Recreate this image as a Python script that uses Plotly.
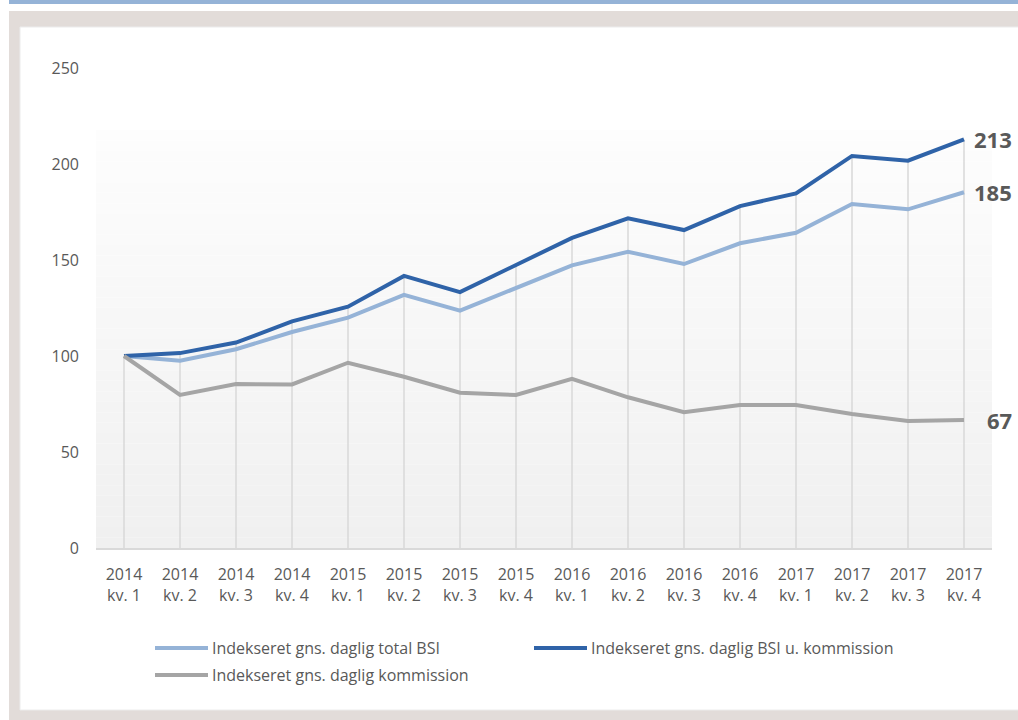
import plotly.graph_objects as go

# categories (quarters) and index series
years = ["2014", "2014", "2014", "2014", "2015", "2015", "2015", "2015",
         "2016", "2016", "2016", "2016", "2017", "2017", "2017", "2017"]
quarters = ["kv. 1", "kv. 2", "kv. 3", "kv. 4"] * 4

total_bsi = [100, 97.5, 103.5, 112.5, 120, 131.8, 123.6, 135.4,
             147.2, 154.3, 147.9, 158.7, 164.2, 179.2, 176.4, 185.3]
bsi_u_komm = [100, 101.5, 107, 118, 125.7, 141.7, 133.3, 147.4,
              161.5, 171.7, 165.6, 178.1, 184.7, 204.2, 201.7, 212.8]
kommission = [100, 79.7, 85.4, 85.2, 96.5, 89.2, 80.9, 79.7,
              88.1, 78.5, 70.7, 74.5, 74.5, 69.8, 66.1, 66.7]

names = ["Indekseret gns. daglig total BSI",
         "Indekseret gns. daglig BSI u. kommission",
         "Indekseret gns. daglig kommission"]
colors = ["#95b3d7", "#2f63a8", "#a5a5a5"]
series = [total_bsi, bsi_u_komm, kommission]

W, H = 1018, 720
L, R, T, B = 96, 992, 68, 548   # plot area in pixels


def px(x):
    return (x - L) / (R - L)


def py(y):
    return (B - y) / (B - T)


x_idx = list(range(len(years)))
tick_text = [f"{y}<br>{q}" for y, q in zip(years, quarters)]

fig = go.Figure()

# drop lines from the highest series down to the axis
drop_x, drop_y = [], []
for i in x_idx:
    drop_x += [i, i, None]
    drop_y += [0, max(s[i] for s in series), None]
fig.add_trace(go.Scatter(x=drop_x, y=drop_y, mode="lines",
                         line=dict(color="#d9d9d9", width=1.5),
                         hoverinfo="skip", showlegend=False))

for name, vals, col in zip(names, series, colors):
    fig.add_trace(go.Scatter(x=x_idx, y=vals, mode="lines", name=name,
                             line=dict(color=col, width=4),
                             showlegend=False))

shapes = [
    # frame
    dict(type="rect", xref="paper", yref="paper", x0=px(9), x1=px(W), y0=py(4), y1=py(0),
         fillcolor="#95b3d7", line_width=0, layer="below"),
    dict(type="rect", xref="paper", yref="paper", x0=px(9), x1=px(W), y0=py(H), y1=py(11),
         fillcolor="#e2dcd9", line_width=0, layer="below"),
    dict(type="rect", xref="paper", yref="paper", x0=px(20), x1=px(W + 5), y0=py(710), y1=py(27),
         fillcolor="white", line=dict(color="#ececec", width=1), layer="below"),
]

# soft vertical gradient in the plot area
n_strips = 40
g_top, g_bot = 130, B
c_top, c_bot = (253, 253, 253), (240, 240, 240)
for k in range(n_strips):
    t = k / (n_strips - 1)
    c = tuple(round(a + (b - a) * t) for a, b in zip(c_top, c_bot))
    y0 = g_top + (g_bot - g_top) * k / n_strips
    y1 = g_top + (g_bot - g_top) * (k + 1) / n_strips
    shapes.append(dict(type="rect", xref="paper", yref="paper",
                       x0=0, x1=1, y0=py(y1), y1=py(y0),
                       fillcolor="rgb(%d,%d,%d)" % c, line_width=0, layer="below"))

# manual legend
leg_items = [(155, 648), (534, 648), (155, 675)]
annotations = []
for (lx, ly), name, col in zip(leg_items, names, colors):
    shapes.append(dict(type="line", xref="paper", yref="paper",
                       x0=px(lx), x1=px(lx + 53), y0=py(ly), y1=py(ly),
                       line=dict(color=col, width=4)))
    annotations.append(dict(xref="paper", yref="paper", x=px(lx + 55), y=py(ly),
                            text=name, showarrow=False, xanchor="left", yanchor="middle",
                            font=dict(family="Open Sans", size=16, color="#595959")))

# end-point value labels
for vals in series:
    annotations.append(dict(xref="paper", yref="y", x=1, xshift=22, y=vals[-1],
                            text=f"<b>{round(vals[-1])}</b>", showarrow=False,
                            xanchor="right", yanchor="middle",
                            font=dict(family="Open Sans", size=22, color="#595959")))

fig.update_layout(
    width=W, height=H,
    margin=dict(l=L, r=W - R, t=T, b=H - B),
    paper_bgcolor="white",
    plot_bgcolor="rgba(0,0,0,0)",
    shapes=shapes,
    annotations=annotations,
    showlegend=False,
    font=dict(family="Open Sans", size=16, color="#595959"),
    xaxis=dict(range=[-0.5, len(years) - 0.5], tickvals=x_idx, ticktext=tick_text,
               showgrid=False, zeroline=False, showline=True, linecolor="#d9d9d9",
               linewidth=2, ticks="", ticklabelstandoff=11,
               tickfont=dict(size=16, color="#595959")),
    yaxis=dict(range=[0, 250], tickvals=[0, 50, 100, 150, 200, 250],
               showgrid=False, zeroline=False, showline=False, ticks="",
               ticklabelstandoff=16, tickfont=dict(size=16, color="#595959")),
)

fig.write_html("out.html", config={"displayModeBar": False},
               post_script="document.body.style.margin='0';")
